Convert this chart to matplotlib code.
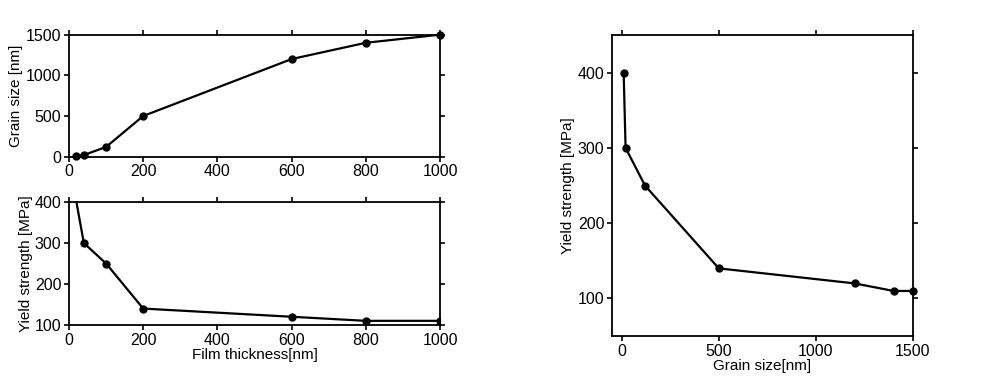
import matplotlib.pyplot as plt

plt.rcParams['font.family'] = ['Liberation Sans', 'DejaVu Sans']

# data
film_thickness = [20, 40, 100, 200, 600, 800, 1000]
grain_size = [10, 20, 120, 500, 1200, 1400, 1500]
yield_strength = [400, 300, 250, 140, 120, 110, 110]


def style_axes(ax):
    ax.tick_params(direction='out', top=True, right=True, labelsize=11.5,
                   length=3.5, width=1.2, pad=2)
    for sp in ax.spines.values():
        sp.set_linewidth(1.3)


fig = plt.figure(figsize=(10, 3.85), dpi=100)

# top left: grain size vs film thickness
ax1 = fig.add_axes([0.069, 0.593, 0.371, 0.317])
ax1.plot(film_thickness, grain_size, color='black', lw=1.6,
         marker='o', ms=5, clip_on=False)
ax1.set_xlim(0, 1000)
ax1.set_ylim(0, 1500)
ax1.set_xticks([0, 200, 400, 600, 800, 1000])
ax1.set_yticks([0, 500, 1000, 1500])
ax1.set_ylabel('Grain size [nm]', fontsize=11, labelpad=2)
style_axes(ax1)

# bottom left: yield strength vs film thickness
ax2 = fig.add_axes([0.069, 0.156, 0.371, 0.319])
ax2.plot(film_thickness, yield_strength, color='black', lw=1.6,
         marker='o', ms=5, markevery=range(1, len(film_thickness)))
ax2.set_xlim(0, 1000)
ax2.set_ylim(100, 400)
ax2.set_xticks([0, 200, 400, 600, 800, 1000])
ax2.set_yticks([100, 200, 300, 400])
ax2.set_xlabel('Film thickness[nm]', fontsize=11, labelpad=0)
ax2.set_ylabel('Yield strength [MPa]', fontsize=11, labelpad=1)
style_axes(ax2)

# right: yield strength vs grain size
ax3 = fig.add_axes([0.612, 0.127, 0.301, 0.782])
ax3.plot(grain_size, yield_strength, color='black', lw=1.6,
         marker='o', ms=5, clip_on=False)
ax3.set_xlim(-50, 1500)
ax3.set_ylim(50, 450)
ax3.set_xticks([0, 500, 1000, 1500])
ax3.set_yticks([100, 200, 300, 400])
ax3.set_xlabel('Grain size[nm]', fontsize=11, labelpad=0)
ax3.set_ylabel('Yield strength [MPa]', fontsize=11, labelpad=2)
style_axes(ax3)

fig.savefig('out.png', dpi=100)
